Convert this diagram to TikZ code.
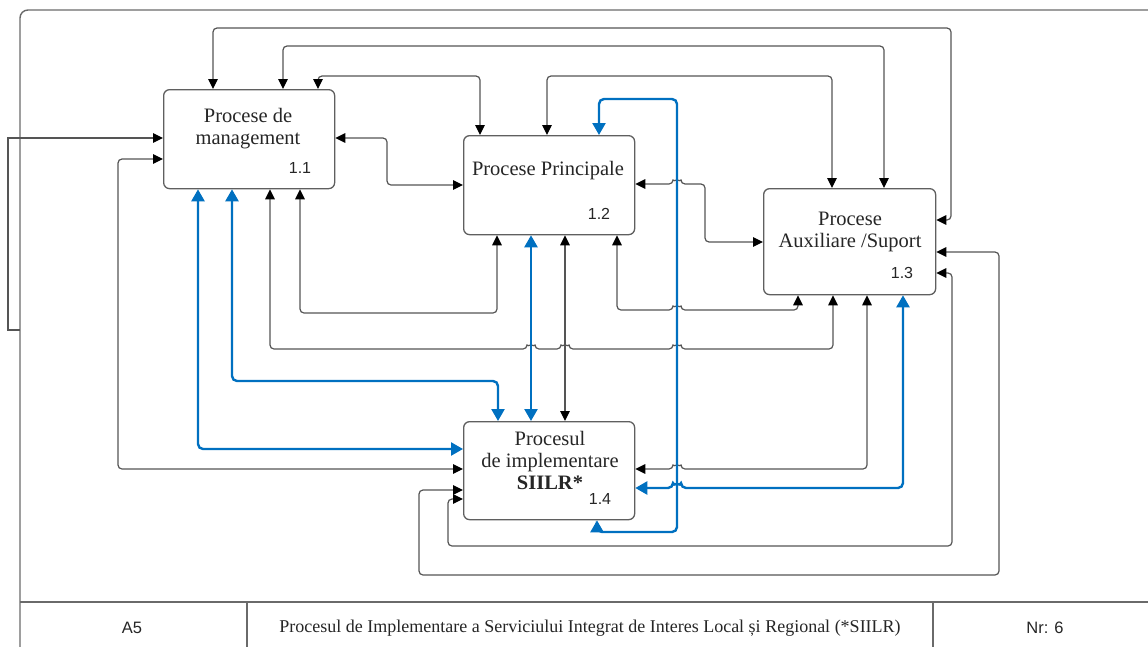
\documentclass[tikz,border=0pt]{standalone}
\usepackage{fontspec}
\setmainfont{Liberation Serif}
\setsansfont{Liberation Sans}
\usetikzlibrary{arrows.meta}

\definecolor{linegray}{HTML}{555555}
\definecolor{boxgray}{HTML}{5F5F5F}
\definecolor{framegray}{HTML}{6A6A6A}
\definecolor{procblue}{RGB}{0,112,192}

\tikzset{
  proc/.style={draw=boxgray, line width=1.3pt, rounded corners=6pt, anchor=north west,
    inner sep=0pt, fill=white},
  title/.style={font=\fontsize{20.5}{22}\selectfont, align=center, text=black!85},
  numlbl/.style={font=\sffamily\fontsize{16}{18}\selectfont, text=black!85},
  foot/.style={text=black!85},
  frame/.style={draw=framegray, line width=1.4pt},
  tipk/.tip={Triangle[length=10pt,width=9.5pt,color=black]},
  tipb/.tip={Triangle[length=12pt,width=13pt]},
  link/.style={draw=linegray, line width=1.2pt, rounded corners=4pt, tipk-tipk},
  onelink/.style={draw=linegray, line width=1.2pt, -tipk},
  bluelink/.style={draw=procblue, line width=2.4pt, rounded corners=5pt, tipb-tipb},
}

\begin{document}
\begin{tikzpicture}[x=1pt,y=-1pt]
\useasboundingbox (0,0) rectangle (1148,646);
\fill[white] (0,0) rectangle (1148,646);

% page frame and footer cells
\draw[frame, rounded corners=8pt] (1170,10) -- (20,10) -- (20,670);
\draw[frame] (20,602) -- (1170,602);
\draw[frame] (247,602) -- (247,670);
\draw[frame] (933,602) -- (933,670);
\node[foot, font=\sffamily\fontsize{16.5}{18}\selectfont] (fa) at (132,628) {A5};
\node[foot, font=\fontsize{18}{20}\selectfont] (fb) at (590,628)
  {Procesul de Implementare a Serviciului Integrat de Interes Local și Regional (*SIILR)};
\node[foot, font=\sffamily\fontsize{16.5}{18}\selectfont] (fc) at (1045,628) {Nr: 6};

% process boxes
\node[proc, minimum width=171pt, minimum height=99pt]  (n11) at (163,89)  {};
\node[proc, minimum width=171pt, minimum height=99pt]  (n12) at (463,135) {};
\node[proc, minimum width=172pt, minimum height=106pt] (n13) at (763,188) {};
\node[proc, minimum width=171pt, minimum height=98pt]  (n14) at (463,421) {};

\node[title] (t11) at (248,129) {Procese de\\management};
\node[numlbl] (k11) at (300,168) {1.1};
\node[title] (t12) at (548,171) {Procese Principale};
\node[numlbl] (k12) at (599,214) {1.2};
\node[title] (t13) at (850,232) {Procese\\Auxiliare /Suport};
\node[numlbl] (k13) at (902,273) {1.3};
\node[title] (t14) at (550,460) {Procesul\\de implementare\\\textbf{SIILR*}};
\node[numlbl] (k14) at (600,499) {1.4};

% links across the top
\draw[link] (213,0 |- n11.north) -- (213,28) -- (951,28) -- (951,220) -- (n13.east |- 0,220);
\draw[link] (283,0 |- n11.north) -- (283,46) -- (884,46) -- (884,0 |- n13.north);
\draw[link] (318,0 |- n11.north) -- (318,76) -- (480,76) -- (480,0 |- n12.north);
\draw[link] (547,0 |- n12.north) -- (547,76) -- (832,76) -- (832,0 |- n13.north);

% side links
\coordinate (fr) at (20,330);
\draw[onelink] (fr) -- (8,330) -- (8,138) -- (n11.west |- 0,138);
\draw[link] (n11.east |- 0,138) -- (387,138) -- (387,185) -- (n12.west |- 0,185);
\draw[link] (n12.east |- 0,184) -- (673,184) arc[start angle=180,end angle=360,radius=4]
  -- (705,184) -- (705,242) -- (n13.west |- 0,242);
\draw[link] (n11.west |- 0,159) -- (118,159) -- (118,469) -- (n14.west |- 0,469);

% links below the boxes
\draw[link] (270,0 |- n11.south) -- (270,349)
  -- (527,349) arc[start angle=180,end angle=360,radius=4]
  -- (561,349) arc[start angle=180,end angle=360,radius=4]
  -- (673,349) arc[start angle=180,end angle=360,radius=4]
  -- (833,349) -- (833,0 |- n13.south);
\draw[link] (300,0 |- n11.south) -- (300,313) -- (497,313) -- (497,0 |- n12.south);
\draw[link] (565,0 |- n12.south) -- (565,0 |- n14.north);
\draw[link] (617,0 |- n12.south) -- (617,310)
  -- (673,310) arc[start angle=180,end angle=360,radius=4]
  -- (798,310) -- (798,0 |- n13.south);
\draw[link] (867,0 |- n13.south) -- (867,469)
  -- (681,469) arc[start angle=0,end angle=-180,radius=4]
  -- (n14.east |- 0,469);

% links around the right and bottom
\draw[link] (n13.east |- 0,273) -- (952,273) -- (952,546) -- (448,546) -- (448,499) -- (n14.west |- 0,499);
\draw[link] (n13.east |- 0,252) -- (999,252) -- (999,575) -- (419,575) -- (419,490) -- (n14.west |- 0,490);

% implementation links
\draw[bluelink] (599,0 |- n12.north) -- (599,99) -- (677,99) -- (677,532) -- (597,532) -- (597,0 |- n14.south);
\draw[bluelink] (198,0 |- n11.south) -- (198,449) -- (n14.west |- 0,449);
\draw[bluelink] (232,0 |- n11.south) -- (232,381) -- (498,381) -- (498,0 |- n14.north);
\draw[bluelink] (531,0 |- n12.south) -- (531,0 |- n14.north);
\draw[bluelink] (903,0 |- n13.south) -- (903,488)
  -- (681,488) arc[start angle=0,end angle=-180,radius=4]
  -- (n14.east |- 0,488);
\end{tikzpicture}
\end{document}
